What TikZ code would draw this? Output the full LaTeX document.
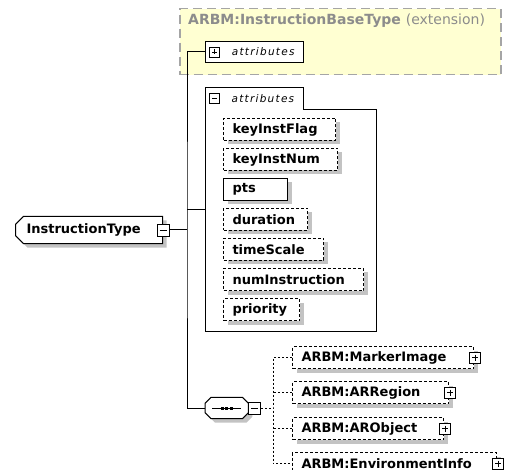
\documentclass[tikz,border=0pt]{standalone}
\usepackage{fontspec}
\setmainfont{DejaVu Sans}
\newfontfamily\tabfont{DejaVu Sans}[LetterSpace=12]
\usetikzlibrary{positioning,shapes.misc,shadows}
\definecolor{XsdYellow}{HTML}{FFFFD2}
\definecolor{XsdDash}{HTML}{A5A5A5}
\definecolor{XsdGray}{HTML}{8C8C8C}
\definecolor{XsdShadow}{HTML}{C3C3C3}
\tikzset{
  xsdlabel/.style={font=\fontsize{13}{15}\selectfont\bfseries, text=black},
  xsdtitle/.style={font=\fontsize{14}{16}\selectfont\bfseries, text=XsdGray},
  xsdtab/.style={font=\tabfont\itshape\fontsize{10.5}{12}\selectfont, anchor=north west, minimum height=21pt, inner xsep=9pt, inner ysep=0pt, text width=#1, align=right},
  xsdshadow/.style={drop shadow={shadow xshift=4pt, shadow yshift=-4pt, fill=XsdShadow, opacity=1}},
  xsdbox/.style={xsdlabel, draw=black, line width=1pt, fill=white, anchor=north west, minimum height=22pt, inner xsep=9pt, inner ysep=0pt, text width=#1, align=left},
  optbox/.style={xsdbox=#1, dash pattern=on 3pt off 2pt, xsdshadow},
  reqbox/.style={xsdbox=#1, xsdshadow},
  iconbox/.style={draw=black, fill=white, line width=0.8pt, minimum size=#1, inner sep=0pt},
  minusicon/.style={iconbox=#1, path picture={\draw[line width=0.8pt] ([xshift=2.5pt]path picture bounding box.west) -- ([xshift=-2.5pt]path picture bounding box.east);}},
  plusicon/.style={iconbox=#1, path picture={\draw[line width=0.8pt] ([xshift=2.5pt]path picture bounding box.west) -- ([xshift=-2.5pt]path picture bounding box.east) ([yshift=-2.5pt]path picture bounding box.north) -- ([yshift=2.5pt]path picture bounding box.south);}},
  treeline/.style={line width=1pt, draw=black},
  treedots/.style={line width=1pt, draw=black, dash pattern=on 2pt off 2pt}
}
\begin{document}
\begin{tikzpicture}[x=1pt, y=-1pt]
\useasboundingbox (0,0) rectangle (511,470);
% base type (extension)
\node[anchor=north west, fill=XsdYellow, draw=XsdDash, line width=1.5pt, dash pattern=on 9pt off 5pt, minimum width=321pt, minimum height=66pt, inner sep=0pt] (basetype) at (179,8) {};
\node[xsdtitle, anchor=west, inner sep=1pt] (basetitle) at (187,21) {ARBM:InstructionBaseType \textmd{(extension)}};
\node[xsdtab=80pt, draw=black, line width=1pt, fill=white] (baseattrs) at (205,41) {attributes};
\node[plusicon=10pt] (baseplus) at ([xshift=9.5pt]baseattrs.west) {};
% own attributes
\node[anchor=north west, minimum width=171pt, minimum height=243pt, inner sep=0pt] (attrpanel) at (205,88) {};
\node[xsdtab=80pt] (attrtab) at (205,88) {attributes};
\draw[treeline] (attrtab.north west) -| (attrtab.south east) -| (attrpanel.south east) -| (attrpanel.north west) -- cycle;
\node[minusicon=10pt] (attrminus) at ([xshift=9.5pt]attrtab.west) {};
\node[optbox=94pt] (keyflag) at (223,118) {keyInstFlag};
\node[optbox=96pt] (keynum) at (223,148) {keyInstNum};
\node[reqbox=46pt] (pts) at (223,178) {pts};
\node[optbox=66pt] (duration) at (223,208) {duration};
\node[optbox=82pt] (timescale) at (223,238) {timeScale};
\node[optbox=122pt] (numinstr) at (223,268) {numInstruction};
\node[optbox=58pt] (priority) at (223,298) {priority};
% complex type
\node[xsdlabel, chamfered rectangle, chamfered rectangle corners={north west,south west}, chamfered rectangle xsep=4pt, chamfered rectangle ysep=4pt, draw=black, line width=1pt, fill=white, xsdshadow, minimum width=147pt, minimum height=24pt, inner xsep=6pt, text width=125pt, align=left, anchor=west] (insttype) at (15,230) {InstructionType};
\node[minusicon=12pt] (instminus) at (insttype.east) {};
% sequence
\node[minimum width=43pt, minimum height=21pt, inner sep=0pt, anchor=west] (seq) at (205,408) {};
\path[draw=black, line width=1pt, fill=white, xsdshadow]
  ([xshift=6pt]seq.north west) -- ([xshift=-6pt]seq.north east) -- ([yshift=-6pt]seq.north east)
  -- ([yshift=6pt]seq.south east) -- ([xshift=-6pt]seq.south east) -- ([xshift=6pt]seq.south west)
  -- ([yshift=6pt]seq.south west) -- ([yshift=-6pt]seq.north west) -- cycle;
\draw[line width=1pt] ([xshift=7pt]seq.west) -- ([xshift=-7pt]seq.east);
\foreach \dx in {-4.5,0,4.5}
  \fill ([xshift=\dx pt]seq.center) +(-1.5,-1.5) rectangle +(1.5,1.5);
\node[minusicon=12pt, anchor=west] (seqminus) at (seq.east) {};
\node[optbox=163pt] (marker) at (292,346) {ARBM:MarkerImage};
\node[optbox=138pt] (region) at (292,381) {ARBM:ARRegion};
\node[optbox=133pt] (object) at (292,417) {ARBM:ARObject};
\node[optbox=186pt] (envinfo) at (292,452) {ARBM:EnvironmentInfo};
\node[plusicon=11pt] (markerplus) at ([xshift=1pt]marker.east) {};
\node[plusicon=11pt] (regionplus) at ([xshift=1pt]region.east) {};
\node[plusicon=11pt] (objectplus) at ([xshift=1pt]object.east) {};
\node[plusicon=11pt] (envplus) at ([xshift=1pt]envinfo.east) {};
% connectors
\coordinate (trunk) at (187,230);
\coordinate (fork) at (273,408);
\draw[treeline] (instminus.east) -- (trunk);
\draw[treeline] (baseattrs.west) -| (trunk) |- (seq.west);
\draw[treeline] (attrpanel.west) -- (attrpanel.west -| trunk);
\draw[treedots] (seqminus.east) -- (fork);
\draw[treedots] (marker.west) -| (fork) |- (envinfo.west);
\draw[treedots] (region.west) -- (region.west -| fork);
\draw[treedots] (object.west) -- (object.west -| fork);
\end{tikzpicture}
\end{document}
